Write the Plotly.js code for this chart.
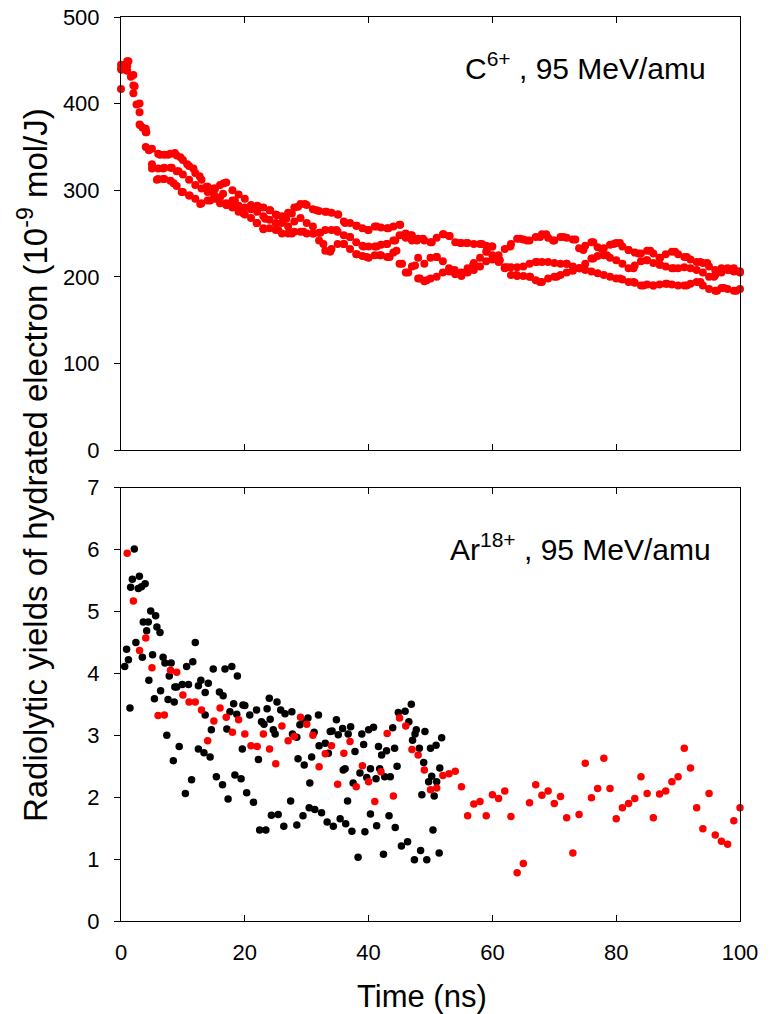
<!DOCTYPE html>
<html>
<head>
<meta charset="utf-8">
<script src="https://cdn.plot.ly/plotly-3.0.1.min.js"></script>
<style>html,body{margin:0;padding:0;background:#fff;}</style>
</head>
<body>
<div id="chart" style="width:774px;height:1014px;"></div>
<script>
// ---------- Top panel: C6+ , 95 MeV/amu (interleaved bands of points) ----------
const timeTop = [0,1,2,3,4,5,6,7,8,9,10,11,12,13,14,15,16,17,18,19,20,21,22,23,24,25,26,27,28,29,30,31,32,33,34,35,36,37,38,39,40,41,42,43,44,45,46,47,48,49,50,51,52,53,54,55,56,57,58,59,60,61,62,63,64,65,66,67,68,69,70,71,72,73,74,75,76,77,78,79,80,81,82,83,84,85,86,87,88,89,90,91,92,93,94,95,96,97,98,99,100];
const bandA = [417,449,433,400,371,348,342,341,342,340,335,328,320,312,304,302,306,309,300,295,290,283,282,280,277,272,270,274,280,284,283,278,276,275,274,272,264,262,259,256,254,258,257,256,258,260,250,248,244,242,240,245,249,247,240,239,239,238,238,236,235,225,232,238,244,243,242,246,249,245,242,246,245,243,233,236,240,234,233,237,239,235,231,228,227,230,227,222,226,229,226,223,220,217,216,212,208,210,210,208,206];
const bandB = [440,443,421,390,367,330,325,326,326,322,318,312,306,302,298,296,292,285,288,282,280,278,275,270,266,262,262,258,264,268,262,258,251,254,254,252,248,246,240,236,235,235,237,238,242,248,245,242,222,215,222,223,218,210,205,205,210,216,222,229,225,219,211,211,211,212,215,217,217,217,216,215,215,212,210,215,221,224,225,222,219,215,210,213,218,219,216,214,212,210,210,211,210,208,205,200,202,205,208,206,205];
const bandC = [445,438,412,376,350,325,313,313,311,305,298,294,290,285,288,290,285,283,280,275,272,268,262,256,256,254,250,250,252,252,250,250,242,230,232,238,238,232,226,224,222,225,225,223,228,215,205,212,198,195,198,200,205,206,203,201,205,208,212,218,220,217,210,202,201,201,200,196,194,198,200,202,205,207,210,208,206,204,202,200,198,197,194,193,190,191,190,191,192,191,190,190,192,194,190,186,184,187,186,184,186];
const timeEarly = [0.1,0.6,1.2,1.6,2.2,2.5,3.1,3.5,4.1,4.5];
const valEarly  = [439,442,449,431,420,399,375,372,367,346];
const timeExtra = [6.3,7.6,8.7,9.6,10.7,11.7,12.7,13.8,15.2,16.6,6.8,8.2,9.3,5.8,6.8,8.5,9.8,11.1,12.8,14.4,15.5,16.5,17.1,18.4,19.8,21.1,22.2,23.3,24.1,25.2,26.2,26.7,21.9,23,25.4,27.6,28.6,29.7,31.6,33.2,35.1,36.2,38.1,39.9,41.3,43.2,45.1,46.7,48.8,27.6,29.5,31.1,32.7,33.8,36,38.1,39.7,41.8,43.4,44.5,45.4,46.4,47.5,48.3,49.4,32.2,34.8,37,39.2,41.3,42.9,44.3,45.6,47.8,
  50.2,52.1,53.1,54.8,55.8,58.3,59.9,61.2,62.9,64.5,65.6,67.7,68.7,69.8,71.5,73.4,74.7,76.3,77.7,79.6,80.6,82,83.6,85.5,87.1,89.5,91.4,93.6,94.7,96.9,99,99.8,
  51,53.9,56.9,59.1,62.4,67.2,72,74.2,76.3,78.5,82.8,84.9,87.1,89.3,95.8,98.5,
  53.7,63.9,66.1,67.7,70.4,80.6,82.8,84.4,86,88.2,91.4,93.6,96.3,97.4,99.4];
const valExtra = [341,341,343,338,330,325,316,304,302,308,325,326,322,312,313,308,298,294,284,288,290,296,283,288,273,281,281,267,277,271,265,267,262,255,254,273,281,284,277,275,272,262,259,254,258,256,260,248,244,250,252,250,238,229,238,226,223,225,223,230,215,205,213,198,196,251,254,246,235,235,238,242,248,242,
  240,249,247,239,239,238,235,219,235,244,242,246,249,242,246,243,231,240,232,238,239,231,227,230,222,229,223,217,216,208,210,206,
  223,208,214,229,211,217,215,210,221,225,210,219,214,210,200,208,
  206,202,200,194,200,198,194,190,190,192,190,194,184,187,184];

// ---------- Bottom panel: Ar18+ , 95 MeV/amu ----------
const timeRed = [1,2,3,4,5,6,7,8,9,10,11,12,13,14,15,16,17,18,19,20,21,22,23,24,25,26,27,28,29,30,31,32,33,34,35,36,37,38,39,40,41,42,43,44,45,46,47,48,49,50,51,52,53,54,55,56,57,58,59,60,61,62,63,64,65,66,67,68,69,70,71,72,73,74,75,76,77,78,79,80,81,82,83,84,85,86,87,88,89,90,91,92,93,94,95,96,97,98,99,100];
const valRed = [5.94,5.17,4.37,4.57,4.09,3.32,3.33,4.05,4.02,3.65,3.54,3.54,3.41,2.91,3.23,3.44,3.29,3.05,3.25,3.02,2.83,2.82,3.02,2.78,2.54,3.15,2.91,2.98,3.29,3.18,3.00,2.49,2.70,2.83,2.21,2.71,2.90,2.17,2.51,2.25,1.93,2.41,3.03,2.02,3.28,3.15,2.77,2.68,2.44,2.12,2.15,2.35,2.38,2.42,2.17,1.70,1.89,1.93,1.70,2.04,1.98,2.10,1.69,0.78,0.93,1.91,2.20,2.03,2.10,1.90,2.01,1.67,1.10,1.72,2.55,1.99,2.14,2.63,2.14,1.65,1.83,1.90,1.98,2.33,2.06,1.67,2.05,2.10,2.25,2.33,2.79,2.47,1.83,1.49,2.06,1.39,1.29,1.24,1.62,1.83];

const timeBlack = [0.6,0.9,1.2,1.45,1.56,1.83,2.15,2.4,2.8,3.3,2.97,3.9,3.45,3.6,4.4,4.15,4.8,5.1,5.6,5.8,6.3,4.5,5.4,6.4,7.4,6.8,7.1,7.8,7.6,8.6,8.1,8.7,9.4,9.0,9.9,10.6,11.6,12.0,10.9,12.5,12.9,12.5,13.6,14.1,13.6,14.6,14.9,15.9,16.5,16.8,17.9,17.1,17.6,18.7,18.8,18.2,19.7,20.0,20.8,21.9,22.7,23.1,23.6,24.1,24.6,24.9,23.96,25.2,25.8,26.5,27.6,27.7,28.4,28.9,29.5,30.2,31.9,31.2,32.0,33.0,33.8,
  8.45,11.4,10.4,13.4,14.4,15.4,16.4,17.3,18.4,19.4,20.3,21.4,19.6,22.2,22.4,23.4,24.3,25.4,26.3,27.4,28.4,29.4,30.4,31.3,32.4,33.3,29.6,30.5,30.8,28.6,33.5,
  34.8,34.1,35.8,37.1,35.1,36.7,38.9,40.0,40.8,39.2,37.8,35.9,36.2,38.6,39.7,40.3,41.8,41.2,42.6,43.5,41.6,42.1,42.9,44.2,37.5,44.6,43.9,44.8,45.9,46.9,46.5,47.7,47.5,49.1,47.1,48.2,48.9,50.0,50.9,51.8,51.5,50.2,49.7,51.0,48.6,50.6,
  36.6,37.3,38.3,39.4,40.3,41.3,42.4,43.3,44.3,45.3,46.3,47.4,48.4,49.4,50.4,51.4,34.3,35.4,36.3];
const valBlack = [4.11,4.39,4.22,3.44,5.39,5.52,6.01,4.50,5.37,5.40,5.57,5.45,4.26,4.83,4.83,4.69,5.01,4.30,4.93,4.75,4.66,3.89,3.59,3.72,3.00,4.26,4.17,3.96,3.58,3.54,4.17,3.78,2.82,3.78,3.82,4.11,4.19,4.50,3.82,3.80,3.89,2.78,3.69,3.84,3.33,3.09,4.07,3.70,3.64,4.07,4.11,3.10,3.38,3.34,3.96,3.51,3.49,3.48,3.33,3.41,3.22,3.18,3.43,3.26,3.09,3.02,3.60,3.54,3.41,3.35,3.38,3.02,2.97,3.17,3.22,3.28,3.33,3.05,2.83,2.87,3.06,
  2.59,2.28,2.06,2.72,2.65,2.33,2.20,1.97,2.36,2.30,2.07,1.92,2.78,2.61,1.47,1.47,1.71,1.72,1.53,1.94,1.55,1.70,1.83,1.80,1.75,1.60,2.52,2.23,2.65,2.62,2.71,
  3.25,3.07,3.11,3.14,3.01,3.02,3.02,3.09,3.13,2.85,2.74,2.44,2.46,2.39,2.32,2.46,2.46,2.30,2.33,2.33,2.82,2.68,2.75,2.79,2.23,2.50,3.12,3.37,3.39,3.50,3.22,3.09,3.02,3.06,2.92,2.79,2.56,2.79,2.84,2.96,2.47,2.34,2.25,2.25,2.04,2.02,
  1.94,1.45,1.03,1.44,1.73,1.54,1.08,1.70,1.51,1.21,1.28,0.99,1.14,0.99,1.47,1.10,1.53,1.65,1.57];

const xTicks = [0,20,40,60,80,100];

const RED = '#ff0000', BLACK = '#000000';
function dots(x, y, color, size, xa, ya) {
  return {x: x, y: y, type: 'scatter', mode: 'markers', xaxis: xa, yaxis: ya,
          cliponaxis: false, hoverinfo: 'skip',
          marker: {color: color, size: size, line: {width: 0}}};
}

const traces = [
  dots(timeTop, bandA, RED, 8, 'x2', 'y2'),
  dots(timeTop, bandB, RED, 8, 'x2', 'y2'),
  dots(timeTop, bandC, RED, 8, 'x2', 'y2'),
  dots(timeEarly, valEarly, RED, 8, 'x2', 'y2'),
  dots(timeExtra, valExtra, RED, 8, 'x2', 'y2'),
  dots(timeBlack, valBlack, BLACK, 7.5, 'x', 'y'),
  dots(timeRed, valRed, RED, 7.5, 'x', 'y')
];

const FONT = 'Liberation Sans, Arial, Helvetica, sans-serif';
const axisBase = {showline: true, linecolor: '#000', linewidth: 1, showgrid: false, zeroline: false,
                  tickcolor: '#000', tickwidth: 1, ticklen: 6,
                  tickfont: {family: FONT, size: 22, color: '#000'}};

const layout = {
  width: 774, height: 1014,
  margin: {l: 121, r: 33.5, t: 17, b: 93, pad: 0},
  paper_bgcolor: '#fff', plot_bgcolor: '#fff',
  showlegend: false,
  font: {family: FONT, color: '#000'},
  xaxis: Object.assign({}, axisBase, {domain: [0, 1], anchor: 'y', range: [0, 100],
          tickvals: xTicks, ticks: 'inside', mirror: 'ticks', ticklabelstandoff: 12}),
  yaxis: Object.assign({}, axisBase, {domain: [0, 0.4793], anchor: 'x', range: [0, 7],
          dtick: 1, ticks: 'outside', mirror: true, ticklabelstandoff: 10}),
  xaxis2: Object.assign({}, axisBase, {domain: [0, 1], anchor: 'y2', range: [0, 100],
          tickvals: xTicks, ticks: 'inside', mirror: 'ticks', showticklabels: false}),
  yaxis2: Object.assign({}, axisBase, {domain: [0.521, 1], anchor: 'x2', range: [0, 500],
          dtick: 100, ticks: 'outside', mirror: true, ticklabelstandoff: 10}),
  annotations: [
    {text: 'Time (ns)', xref: 'paper', yref: 'paper', x: 0.487, y: -0.084,
     xanchor: 'center', yanchor: 'middle', showarrow: false,
     font: {family: FONT, size: 31, color: '#000'}},
    {text: 'Radiolytic yields of hydrated electron (10<sup>-9</sup> mol/J)', xref: 'paper', yref: 'paper',
     x: -0.141, y: 0.504, xanchor: 'center', yanchor: 'middle', textangle: -90, showarrow: false,
     font: {family: FONT, size: 33, color: '#000'}},
    {text: 'C<sup>6+</sup> , 95 MeV/amu', xref: 'paper', yref: 'paper', x: 0.9475, y: 0.946,
     xanchor: 'right', yanchor: 'middle', showarrow: false,
     font: {family: FONT, size: 30, color: '#000'}},
    {text: 'Ar<sup>18+</sup> , 95 MeV/amu', xref: 'paper', yref: 'paper', x: 0.9556, y: 0.414,
     xanchor: 'right', yanchor: 'middle', showarrow: false,
     font: {family: FONT, size: 30, color: '#000'}}
  ]
};

Plotly.newPlot('chart', traces, layout, {staticPlot: true, displayModeBar: false});
</script>
</body>
</html>
